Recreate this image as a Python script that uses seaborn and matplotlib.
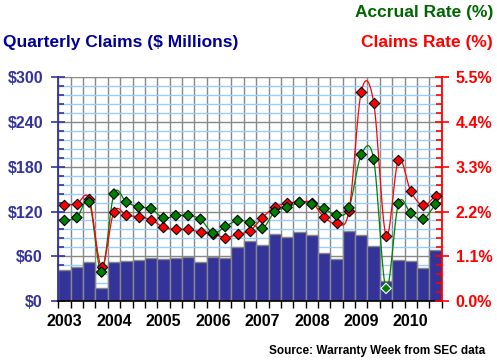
import numpy as np
import pandas as pd
import matplotlib
matplotlib.use("Agg")
import matplotlib.pyplot as plt
import matplotlib.ticker as mticker
import seaborn as sns

# ── Data ──────────────────────────────────────────────────────────────────────
quarters = [f"{y}Q{q}" for y in range(2003, 2011) for q in range(1, 5)][:31]
year_labels = ["2003", "2004", "2005", "2006", "2007", "2008", "2009", "2010"]

claims_musd = [41.3, 45.4, 52.1, 17.1, 52.1, 53.5, 54.8, 57.5, 56.2, 57.5,
               58.4, 52.1, 58.4, 57.5, 72.4, 80.4, 75.1, 89.9, 86.3, 92.6,
               88.5, 64.3, 56.2, 93.9, 88.5, 73.7, 27.0, 54.8, 53.5, 44.0,
               68.3]
claims_rate = [2.36, 2.39, 2.51, 0.84, 2.20, 2.11, 2.07, 2.00, 1.81, 1.76,
               1.76, 1.69, 1.65, 1.56, 1.64, 1.73, 2.05, 2.31, 2.40, 2.43,
               2.42, 2.06, 1.91, 2.21, 5.15, 4.88, 1.61, 3.47, 2.70, 2.35,
               2.59]
accrual_rate = [1.98, 2.05, 2.43, 0.71, 2.63, 2.43, 2.31, 2.27, 2.04, 2.10,
                2.10, 2.01, 1.67, 1.83, 1.98, 1.93, 1.78, 2.19, 2.30, 2.42,
                2.38, 2.27, 2.11, 2.29, 3.60, 3.48, 0.31, 2.39, 2.16, 2.01,
                2.38]

# ── Colours ───────────────────────────────────────────────────────────────────
BAR_BLUE = "#333399"
TITLE_BLUE = "#000099"
RED = "#FF0000"
GREEN = "#008000"
GRID_GRAY = "#888888"
GRID_BLUE = "#99CCFF"

df = pd.DataFrame({"quarter": quarters, "claims": claims_musd,
                   "claims_rate": claims_rate, "accrual_rate": accrual_rate})
df["pos"] = np.arange(len(df))


def smooth(x, y, n=12):
    # Hermite smoothing of the line drawn through the points
    x = np.asarray(x, float)
    y = np.asarray(y, float)
    m = np.gradient(y, x)
    xs, ys = [], []
    for i in range(len(x) - 1):
        t = np.linspace(0, 1, n, endpoint=False)
        h = x[i + 1] - x[i]
        h00 = 2 * t**3 - 3 * t**2 + 1
        h10 = t**3 - 2 * t**2 + t
        h01 = -2 * t**3 + 3 * t**2
        h11 = t**3 - t**2
        xs.append(x[i] + t * h)
        ys.append(h00 * y[i] + h10 * h * m[i] + h01 * y[i + 1] + h11 * h * m[i + 1])
    xs.append([x[-1]])
    ys.append([y[-1]])
    return np.concatenate(xs), np.concatenate(ys)


sns.set_style("white")
plt.rcParams["font.family"] = ["Liberation Sans", "DejaVu Sans"]
plt.rcParams["font.weight"] = "bold"

fig = plt.figure(figsize=(4.97, 3.63), dpi=100)
ax = fig.add_axes([58.3 / 497, 1 - 301 / 363, (441.7 - 58.3) / 497, (301 - 77.3) / 363])

# ── Bars ──────────────────────────────────────────────────────────────────────
sns.barplot(data=df, x="quarter", y="claims", color=BAR_BLUE, saturation=1,
            width=1.0, edgecolor=GRID_GRAY, linewidth=1.0, ax=ax, zorder=2)

ax.set_xlim(-0.5, len(df) - 0.5)
ax.set_ylim(0, 300)
ax.set_xlabel("")
ax.set_ylabel("")
ax.set_axisbelow(True)

ax.set_xticks(np.arange(0, len(df), 4))
ax.set_xticklabels(year_labels)
ax.xaxis.set_minor_locator(mticker.FixedLocator(np.arange(-0.5, len(df), 1)))
ax.tick_params(axis="x", which="major", length=0, pad=9, labelsize=11.5, labelcolor="black")
ax.tick_params(axis="x", which="minor", direction="out", length=5, width=1, color="black")

ax.yaxis.set_major_locator(mticker.MultipleLocator(60))
ax.yaxis.set_minor_locator(mticker.MultipleLocator(12))
ax.yaxis.set_major_formatter(mticker.FormatStrFormatter("$%.0f"))
ax.tick_params(axis="y", which="major", direction="inout", length=10, width=1.2,
               color=BAR_BLUE, labelcolor=BAR_BLUE, labelsize=11.5, pad=6)
ax.tick_params(axis="y", which="minor", direction="in", length=4.5, width=1.2, color=BAR_BLUE)
ax.tick_params(left=True, bottom=True, which="both")

ax.grid(axis="y", which="minor", color=GRID_BLUE, linewidth=1, zorder=0)
ax.grid(axis="y", which="major", color=GRID_GRAY, linewidth=1, zorder=0)
ax.grid(axis="x", which="minor", color=GRID_GRAY, linewidth=1, zorder=0)
ax.grid(axis="x", which="major", visible=False)

ax.spines["top"].set_visible(False)
ax.spines["right"].set_visible(False)
ax.spines["left"].set_color(BAR_BLUE)
ax.spines["left"].set_linewidth(1.3)
ax.spines["bottom"].set_color("black")
ax.spines["bottom"].set_linewidth(1.2)
for lab in ax.get_xticklabels() + ax.get_yticklabels():
    lab.set_fontweight("bold")

# ── Rate lines ────────────────────────────────────────────────────────────────
ax2 = ax.twinx()
ax2.set_ylim(0, 5.5)
ax2.set_xlim(-0.5, len(df) - 0.5)

for col, colour in [("accrual_rate", GREEN), ("claims_rate", RED)]:
    sx, sy = smooth(df["pos"], df[col])
    ax2.plot(sx, sy, color=colour, linewidth=0.9, zorder=3)

edge_acc = ["white" if v < 0.5 else "black" for v in accrual_rate]
sns.scatterplot(data=df, x="pos", y="claims_rate", marker="D", s=28, color=RED,
                edgecolor="black", linewidth=0.8, ax=ax2, zorder=4, legend=False)
sns.scatterplot(data=df, x="pos", y="accrual_rate", marker="D", s=28, color=GREEN,
                edgecolor=edge_acc, linewidth=0.8, ax=ax2, zorder=5, legend=False)

ax2.set_xlabel("")
ax2.set_ylabel("")
ax2.yaxis.set_major_locator(mticker.MultipleLocator(1.1))
ax2.yaxis.set_minor_locator(mticker.MultipleLocator(0.22))
ax2.yaxis.set_major_formatter(mticker.FuncFormatter(lambda v, p: f"{v:.1f}%"))
ax2.tick_params(axis="y", which="major", direction="inout", length=10, width=1.2,
                color=RED, labelcolor=RED, labelsize=11.5, pad=5, right=True)
ax2.tick_params(axis="y", which="minor", direction="in", length=4.5, width=1.2,
                color=RED, right=True)
for s in ["top", "left", "bottom"]:
    ax2.spines[s].set_visible(False)
ax2.spines["right"].set_color(RED)
ax2.spines["right"].set_linewidth(1.3)
for lab in ax2.get_yticklabels():
    lab.set_fontweight("bold")

# ── Titles / source ───────────────────────────────────────────────────────────
fig.text(493 / 497, 1 - 12 / 363, "Accrual Rate (%)", color="#006600", fontsize=12.5,
         fontweight="bold", ha="right", va="center")
fig.text(493 / 497, 1 - 42 / 363, "Claims Rate (%)", color=RED, fontsize=12.5,
         fontweight="bold", ha="right", va="center")
fig.text(3 / 497, 1 - 42 / 363, "Quarterly Claims ($ Millions)", color=TITLE_BLUE,
         fontsize=12.5, fontweight="bold", ha="left", va="center")
fig.text(485 / 497, 1 - 351 / 363, "Source: Warranty Week from SEC data", color="black",
         fontsize=8.5, fontweight="bold", ha="right", va="center")

fig.savefig("out.png", dpi=100)
plt.close(fig)
